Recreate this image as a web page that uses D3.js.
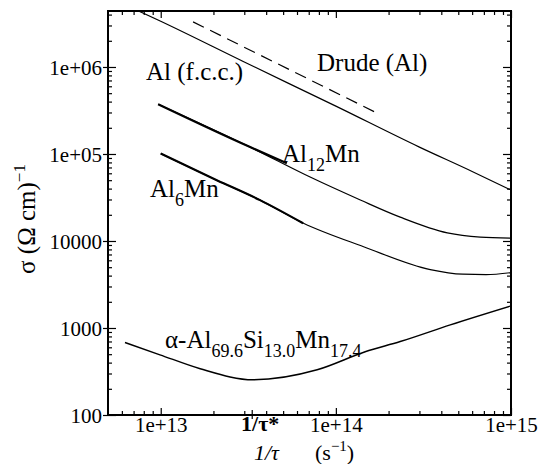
<!DOCTYPE html>
<html>
<head>
<meta charset="utf-8">
<script src="https://cdn.jsdelivr.net/npm/d3@7"></script>
<style>
  svg text { font-family: "Liberation Serif", serif !important; }
</style>
</head>
<body style="margin:0;background:#fff">
<script>
const serifFont = '"Liberation Serif", serif';

// curve data: 1/tau (s^-1) and sigma ((Ohm cm)^-1)
const alFccRate  = [7e12, 1e13, 3e13, 1e14, 3e14, 6e14, 1e15];
const alFccSigma = [4.68e6, 3.35e6, 1.14e6, 3.55e5, 1.2e5, 6.3e4, 3.85e4];

const drudeRate  = [1.53e13, 1.75e14];
const drudeSigma = [3.3e6, 2.9e5];

const al12Rate  = [9.66e12, 3.24e13, 7.13e13, 1.38e14, 2.33e14, 4.33e14, 6.68e14, 1e15];
const al12Sigma = [3.73e5, 1.2e5, 5.43e4, 2.96e4, 1.88e4, 1.24e4, 1.11e4, 1.08e4];
// thick (measured) part of Al12Mn
const al12ExpRate  = [9.66e12, 3.24e13, 5.25e13];
const al12ExpSigma = [3.73e5, 1.2e5, 7.85e4];

const al6Rate  = [1e13, 2.09e13, 3.69e13, 6.53e13, 1.44e14, 3.46e14, 5.3e14, 7.2e14, 1e15];
const al6Sigma = [1.01e5, 5.0e4, 2.95e4, 1.6e4, 8.6e3, 4.69e3, 4.15e3, 4.1e3, 4.33e3];
const al6ExpRate  = [1e13, 2.09e13, 3.69e13, 6.5e13];
const al6ExpSigma = [1.01e5, 5.0e4, 2.95e4, 1.6e4];

const alphaRate  = [6.25e12, 9.9e12, 1.68e13, 3.37e13, 7.82e13, 1.47e14, 2.33e14, 4.5e14, 1e15];
const alphaSigma = [681, 492, 340, 254, 331, 533, 699, 1087, 1795];

const tauStar = 3.33e13;

const xMajor = [1e13, 1e14, 1e15];
const xMajorLabels = ["1e+13", "1e+14", "1e+15"];
const yMajor = [100, 1000, 10000, 1e5, 1e6];
const yMajorLabels = ["100", "1000", "10000", "1e+05", "1e+06"];

const m = { left: 108, right: 511, top: 11, bottom: 415 };

const svg = d3.select('body')
  .append('svg')
  .attr('width', 542)
  .attr('height', 464)
  .style('font-family', serifFont);

const x = d3.scaleLog().domain([5e12, 1e15]).range([m.left, m.right]);
const y = d3.scaleLog().domain([100, 4.4e6]).range([m.bottom, m.top]);

// minor ticks 2..9 x 10^n inside the domain
function minorTicks(scale, lo, hi) {
  const out = [];
  const d = scale.domain();
  for (let e = lo; e <= hi; e++) {
    for (let k = 2; k <= 9; k++) {
      const v = k * Math.pow(10, e);
      if (v > d[0] && v < d[1]) out.push(v);
    }
  }
  return out;
}
const xMinor = minorTicks(x, 12, 14);
const yMinor = minorTicks(y, 2, 6);

// axes: ticks point inward on all four sides
function addAxis(axis, tx, ty) {
  const g = svg.append('g')
    .attr('transform', 'translate(' + tx + ',' + ty + ')')
    .call(axis);
  g.select('.domain').remove();
  g.attr('font-family', serifFont);
  g.selectAll('line').attr('stroke', '#000').attr('stroke-width', 1.2);
  g.selectAll('text').style('font-family', serifFont).attr('fill', '#000').style('font-size', '21px');
  return g;
}

addAxis(d3.axisBottom(x).tickValues(xMajor).tickSize(-7).tickPadding(2)
  .tickFormat((d, i) => xMajorLabels[i]), 0, m.bottom);
addAxis(d3.axisBottom(x).tickValues(xMinor).tickSize(-4).tickFormat(''), 0, m.bottom);
addAxis(d3.axisTop(x).tickValues(xMajor).tickSize(-7).tickFormat(''), 0, m.top);
addAxis(d3.axisTop(x).tickValues(xMinor).tickSize(-4).tickFormat(''), 0, m.top);

const leftMajor = addAxis(d3.axisLeft(y).tickValues(yMajor).tickSize(-8).tickPadding(6)
  .tickFormat((d, i) => yMajorLabels[i]), m.left, 0);
leftMajor.selectAll('text').attr('dy', '0.38em');
addAxis(d3.axisLeft(y).tickValues(yMajor).tickSize(5).tickFormat(''), m.left, 0);
addAxis(d3.axisLeft(y).tickValues(yMinor).tickSize(-4).tickFormat(''), m.left, 0);
addAxis(d3.axisRight(y).tickValues(yMajor).tickSize(-8).tickFormat(''), m.right, 0);
addAxis(d3.axisRight(y).tickValues(yMinor).tickSize(-4).tickFormat(''), m.right, 0);

// 1/tau* marker on the x axis
svg.append('line')
  .attr('x1', x(tauStar)).attr('x2', x(tauStar))
  .attr('y1', m.bottom - 5).attr('y2', m.bottom + 4)
  .attr('stroke', '#000').attr('stroke-width', 1.2);
svg.append('text')
  .attr('x', x(tauStar) + 8)
  .attr('y', 431)
  .attr('text-anchor', 'middle')
  .style('font-family', serifFont)
  .style('font-size', '22px')
  .style('font-weight', 'bold')
  .text('1/τ*');

// frame
svg.append('rect')
  .attr('x', m.left).attr('y', m.top)
  .attr('width', m.right - m.left).attr('height', m.bottom - m.top)
  .attr('fill', 'none').attr('stroke', '#000').attr('stroke-width', 2);

svg.append('clipPath').attr('id', 'clip')
  .append('rect')
  .attr('x', m.left).attr('y', m.top)
  .attr('width', m.right - m.left).attr('height', m.bottom - m.top);

const line = d3.line()
  .x((d) => x(d[0]))
  .y((d) => y(d[1]))
  .curve(d3.curveMonotoneX);

function drawCurve(rates, sigmas, width, dash) {
  svg.append('path')
    .datum(rates.map((r, i) => [r, sigmas[i]]))
    .attr('clip-path', 'url(#clip)')
    .attr('d', line)
    .attr('fill', 'none')
    .attr('stroke', '#000')
    .attr('stroke-width', width)
    .attr('stroke-dasharray', dash || null);
}

drawCurve(alFccRate, alFccSigma, 1.2);
drawCurve(drudeRate, drudeSigma, 1.2, '12,7');
drawCurve(al12Rate, al12Sigma, 1.2);
drawCurve(al12ExpRate, al12ExpSigma, 2.2);
drawCurve(al6Rate, al6Sigma, 1.2);
drawCurve(al6ExpRate, al6ExpSigma, 2.2);
drawCurve(alphaRate, alphaSigma, 1.4);

// curve labels; parts are [text, isSubscript]
function label(px, py, parts) {
  const t = svg.append('text')
    .attr('x', px).attr('y', py)
    .style('font-family', serifFont)
    .style('font-size', '25px');
  let sub = false;
  parts.forEach((p) => {
    const s = t.append('tspan').text(p[0]);
    if (p[1] && !sub) s.attr('dy', 9);
    if (!p[1] && sub) s.attr('dy', -9);
    if (p[1]) s.style('font-size', '18px');
    sub = p[1];
  });
}

label(146, 80, [['Al (f.c.c.)', false]]);
label(317, 71, [['Drude (Al)', false]]);
label(282, 162, [['Al', false], ['12', true], ['Mn', false]]);
label(150, 197, [['Al', false], ['6', true], ['Mn', false]]);
label(165, 348, [['α-Al', false], ['69.6', true], ['Si', false], ['13.0', true], ['Mn', false], ['17.4', true]]);

// axis titles
const yt = svg.append('text')
  .attr('transform', 'translate(35,219) rotate(-90)')
  .attr('text-anchor', 'middle')
  .style('font-family', serifFont)
  .style('font-size', '25px');
yt.append('tspan').text('σ  (Ω cm)');
yt.append('tspan').attr('dy', -10).style('font-size', '17px').text('−1');

const xt = svg.append('text')
  .attr('x', 254).attr('y', 460)
  .style('font-family', serifFont)
  .style('font-size', '22px');
xt.append('tspan').style('font-style', 'italic').text('1/τ');
xt.append('tspan').attr('x', 315).text('(s');
xt.append('tspan').attr('dy', -9).style('font-size', '15px').text('−1');
xt.append('tspan').attr('dy', 9).text(')');
</script>
</body>
</html>
